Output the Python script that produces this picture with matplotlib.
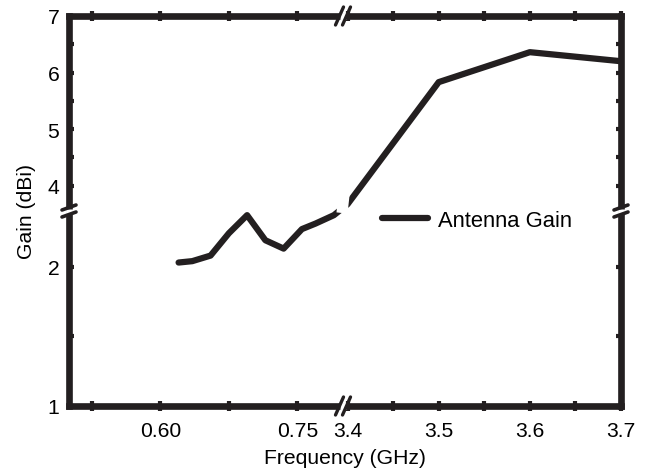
import numpy as np
import matplotlib
matplotlib.use('Agg')
import matplotlib.pyplot as plt

plt.rcParams['font.family'] = ['Liberation Sans', 'DejaVu Sans']

# measured data (GHz, dBi)
freq = [0.62, 0.635, 0.655, 0.675, 0.695, 0.715, 0.735, 0.755, 0.77, 0.79,
        3.4, 3.5, 3.6, 3.7]
gain = [2.03, 2.04, 2.08, 2.24, 2.37, 2.19, 2.13, 2.27, 2.31, 2.37,
        3.67, 5.83, 6.36, 6.20]

xticks = [0.60, 0.75, 3.4, 3.5, 3.6, 3.7]
xticklabels = ['0.60', '0.75', '3.4', '3.5', '3.6', '3.7']
xminor = [0.525, 0.675, 3.45, 3.55, 3.65]
yticks = [1, 2, 4, 5, 6, 7]
yticklabels = ['1', '2', '4', '5', '6', '7']
yminor = [1.5, 4.5, 5.5, 6.5]

# broken axes: [0.5, 0.8] | [3.395, 3.7] and [1, 2.4] | [3.55, 7]
xl0, xl1, xr0, xr1 = 0.5, 0.8, 3.395, 3.7
xa = 274 / 552.
yl0, yl1, yu0, yu1 = 1.0, 2.4, 3.55, 7.0
ya = 0.5


def xfwd(x):
    x = np.asarray(x, dtype=float)
    lo = (x - xl0) / (xl1 - xl0) * xa
    hi = xa + (x - xr0) / (xr1 - xr0) * (1 - xa)
    return np.where(x <= xl1, lo, np.where(x >= xr0, hi, xa))


def xinv(u):
    u = np.asarray(u, dtype=float)
    return np.where(u <= xa, xl0 + u / xa * (xl1 - xl0),
                    xr0 + (u - xa) / (1 - xa) * (xr1 - xr0))


def yfwd(y):
    y = np.asarray(y, dtype=float)
    lo = (y - yl0) / (yl1 - yl0) * ya
    hi = ya + (y - yu0) / (yu1 - yu0) * (1 - ya)
    return np.where(y <= yl1, lo, np.where(y >= yu0, hi, ya))


def yinv(u):
    u = np.asarray(u, dtype=float)
    return np.where(u <= ya, yl0 + u / ya * (yl1 - yl0),
                    yu0 + (u - ya) / (1 - ya) * (yu1 - yu0))


fig = plt.figure(figsize=(6.46, 4.77), dpi=100)
ax = fig.add_axes([69 / 646., 1 - 407 / 477., 552 / 646., 390 / 477.])
ax.set_xscale('function', functions=(xfwd, xinv))
ax.set_yscale('function', functions=(yfwd, yinv))

ax.plot(freq, gain, color='#231f20', lw=4.5, solid_capstyle='round',
        label='Antenna Gain')

ax.set_xlim(xl0, xr1)
ax.set_ylim(yl0, yu1)
ax.set_xticks(xticks)
ax.set_xticklabels(xticklabels)
ax.set_xticks(xminor, minor=True)
ax.set_yticks(yticks)
ax.set_yticklabels(yticklabels)
ax.set_yticks(yminor, minor=True)

fs = 15.2
for s in ax.spines.values():
    s.set_linewidth(4.8)
    s.set_color('#231f20')
ax.tick_params(axis='x', which='both', direction='inout', top=True,
               length=7, width=3, color='#231f20', labelsize=fs, pad=7)
ax.tick_params(axis='y', which='both', direction='in', right=True,
               length=3.5, width=3, color='#231f20', labelsize=fs, pad=7)

ax.set_xlabel('Frequency (GHz)', fontsize=fs, labelpad=6)
ax.set_ylabel('Gain (dBi)', fontsize=fs, labelpad=8)

ax.legend(frameon=False, loc='center left', bbox_to_anchor=(0.567, 0.476),
          borderpad=0, borderaxespad=0, handlelength=2.1, handletextpad=0.45,
          fontsize=15.8)

# break marks
px = 1 / 552.
py = 1 / 390.
k = dict(transform=ax.transAxes, clip_on=False, zorder=5)
# white cut in the curve at the axis break
ax.plot([xa - 1 * px, xa + 1 * px], [ya - 2 * py, ya + 16 * py],
        color='white', lw=8, solid_capstyle='butt', **k)
for yy in (0, 1):
    ax.plot([xa - 3 * px, xa + 3 * px], [yy, yy], color='white', lw=5,
            solid_capstyle='butt', **k)
    for dx in (-3.5, 3.5):
        ax.plot([xa + (dx - 4) * px, xa + (dx + 4) * px],
                [yy - 9 * py, yy + 9 * py], color='#231f20', lw=2.4,
                solid_capstyle='round', **k)
for xx in (0, 1):
    ax.plot([xx, xx], [ya - 2.5 * py, ya + 2.5 * py], color='white', lw=5,
            solid_capstyle='butt', **k)
    for dy in (-3.5, 3.5):
        ax.plot([xx - 7 * px, xx + 7 * px],
                [ya + (dy - 2.5) * py, ya + (dy + 2.5) * py],
                color='#231f20', lw=2.6, solid_capstyle='round', **k)

fig.savefig('out.png', dpi=100)
